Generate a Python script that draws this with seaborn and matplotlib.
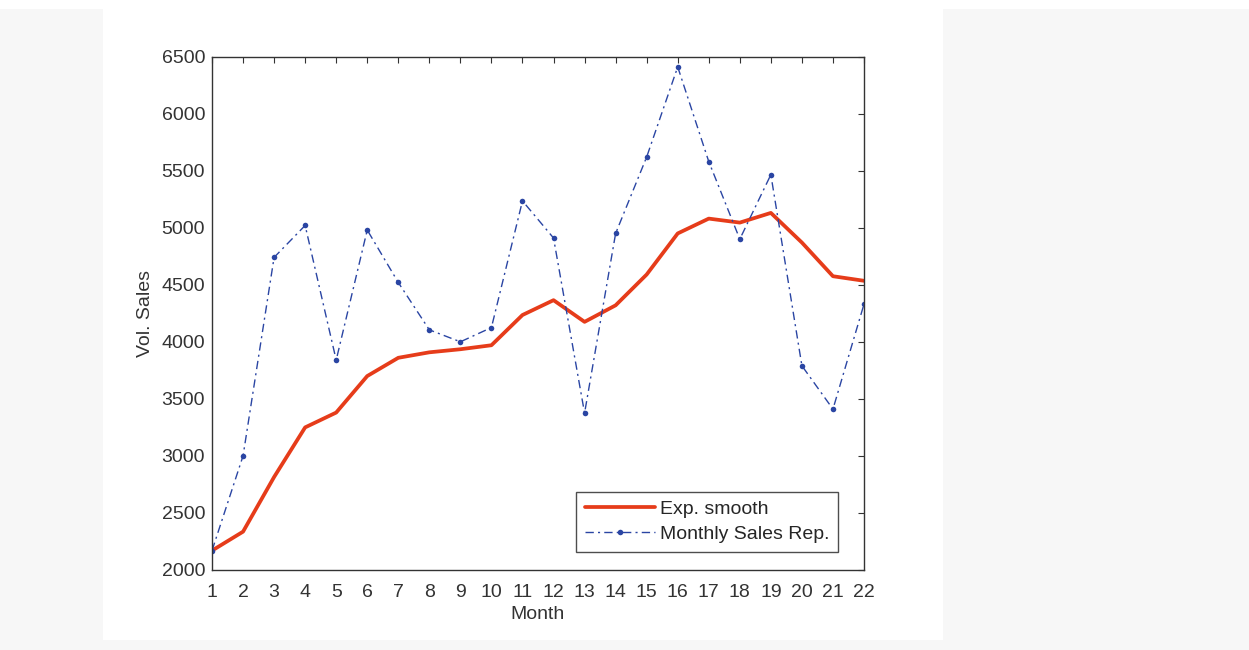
import numpy as np
import pandas as pd
import matplotlib
matplotlib.use("Agg")
import matplotlib.pyplot as plt
import seaborn as sns
from matplotlib.patches import Rectangle

# data
months = list(range(1, 23))
sales = [2170, 3000, 4740, 5020, 3840, 4980, 4520, 4105, 4000, 4125, 5235,
         4910, 3375, 4950, 5620, 6410, 5580, 4900, 5465, 3790, 3410, 4330]
smooth = [2170, 2336, 2815, 3250, 3380, 3700, 3860, 3908, 3935, 3970, 4235,
          4365, 4175, 4320, 4590, 4950, 5080, 5045, 5130, 4870, 4575, 4535]
month_ticks = months
sales_ticks = list(range(2000, 7000, 500))

df = pd.DataFrame({"Month": months, "Sales": sales, "Smooth": smooth})

sns.set_style("white")
plt.rcParams['font.family'] = ['Liberation Sans', 'DejaVu Sans']

fig = plt.figure(figsize=(12.49, 6.5), dpi=100, facecolor="#f7f7f7")
# white page strip and white plot panel like the screenshot
fig.patches.append(Rectangle((0, 641 / 650), 1, 9 / 650, transform=fig.transFigure,
                             facecolor="white", edgecolor="none", zorder=-10))
fig.patches.append(Rectangle((103 / 1249, 10 / 650), 840 / 1249, 631 / 650,
                             transform=fig.transFigure, facecolor="white",
                             edgecolor="none", zorder=-10))

ax = fig.add_axes([212 / 1249, 80 / 650, 652 / 1249, 513.4 / 650])
ax.set_facecolor("white")

sns.lineplot(data=df, x="Month", y="Smooth", ax=ax, color="#e63c1a",
             linewidth=2.7, label="Exp. smooth")
sns.lineplot(data=df, x="Month", y="Sales", ax=ax, color="#2a45a3",
             linewidth=1.0, dashes=False, marker="o", markersize=4,
             markeredgewidth=0, label="Monthly Sales Rep.")
ax.lines[1].set_dashes((6, 3, 1.5, 3))

ax.set_xlim(1, 22)
ax.set_ylim(2000, 6500)
ax.set_xticks(month_ticks)
ax.set_yticks(sales_ticks)
ax.tick_params(direction="in", length=4, width=0.8, colors="#333333",
               labelsize=14, top=True, right=True)
ax.tick_params(axis="x", pad=10)
ax.tick_params(axis="y", pad=5)
for s in ax.spines.values():
    s.set_color("#333333")
    s.set_linewidth(1.0)

ax.set_xlabel("Month", fontsize=14, color="#333333", labelpad=4)
ax.set_ylabel("Vol. Sales", fontsize=14, color="#333333", labelpad=5)

leg = ax.legend(loc="lower right", bbox_to_anchor=(1 - 26 / 652, 18 / 513.4),
                borderaxespad=0, fontsize=14, frameon=True, fancybox=False,
                handlelength=3.6, handletextpad=0.25, borderpad=0.45,
                labelspacing=0.4)
leg.get_frame().set_edgecolor("#222222")
leg.get_frame().set_linewidth(1.0)
for h in leg.get_lines():
    if h.get_label() == "Monthly Sales Rep.":
        h.set_dashes((6, 3, 1.5, 3))

fig.savefig("out.png", dpi=100, facecolor=fig.get_facecolor())
